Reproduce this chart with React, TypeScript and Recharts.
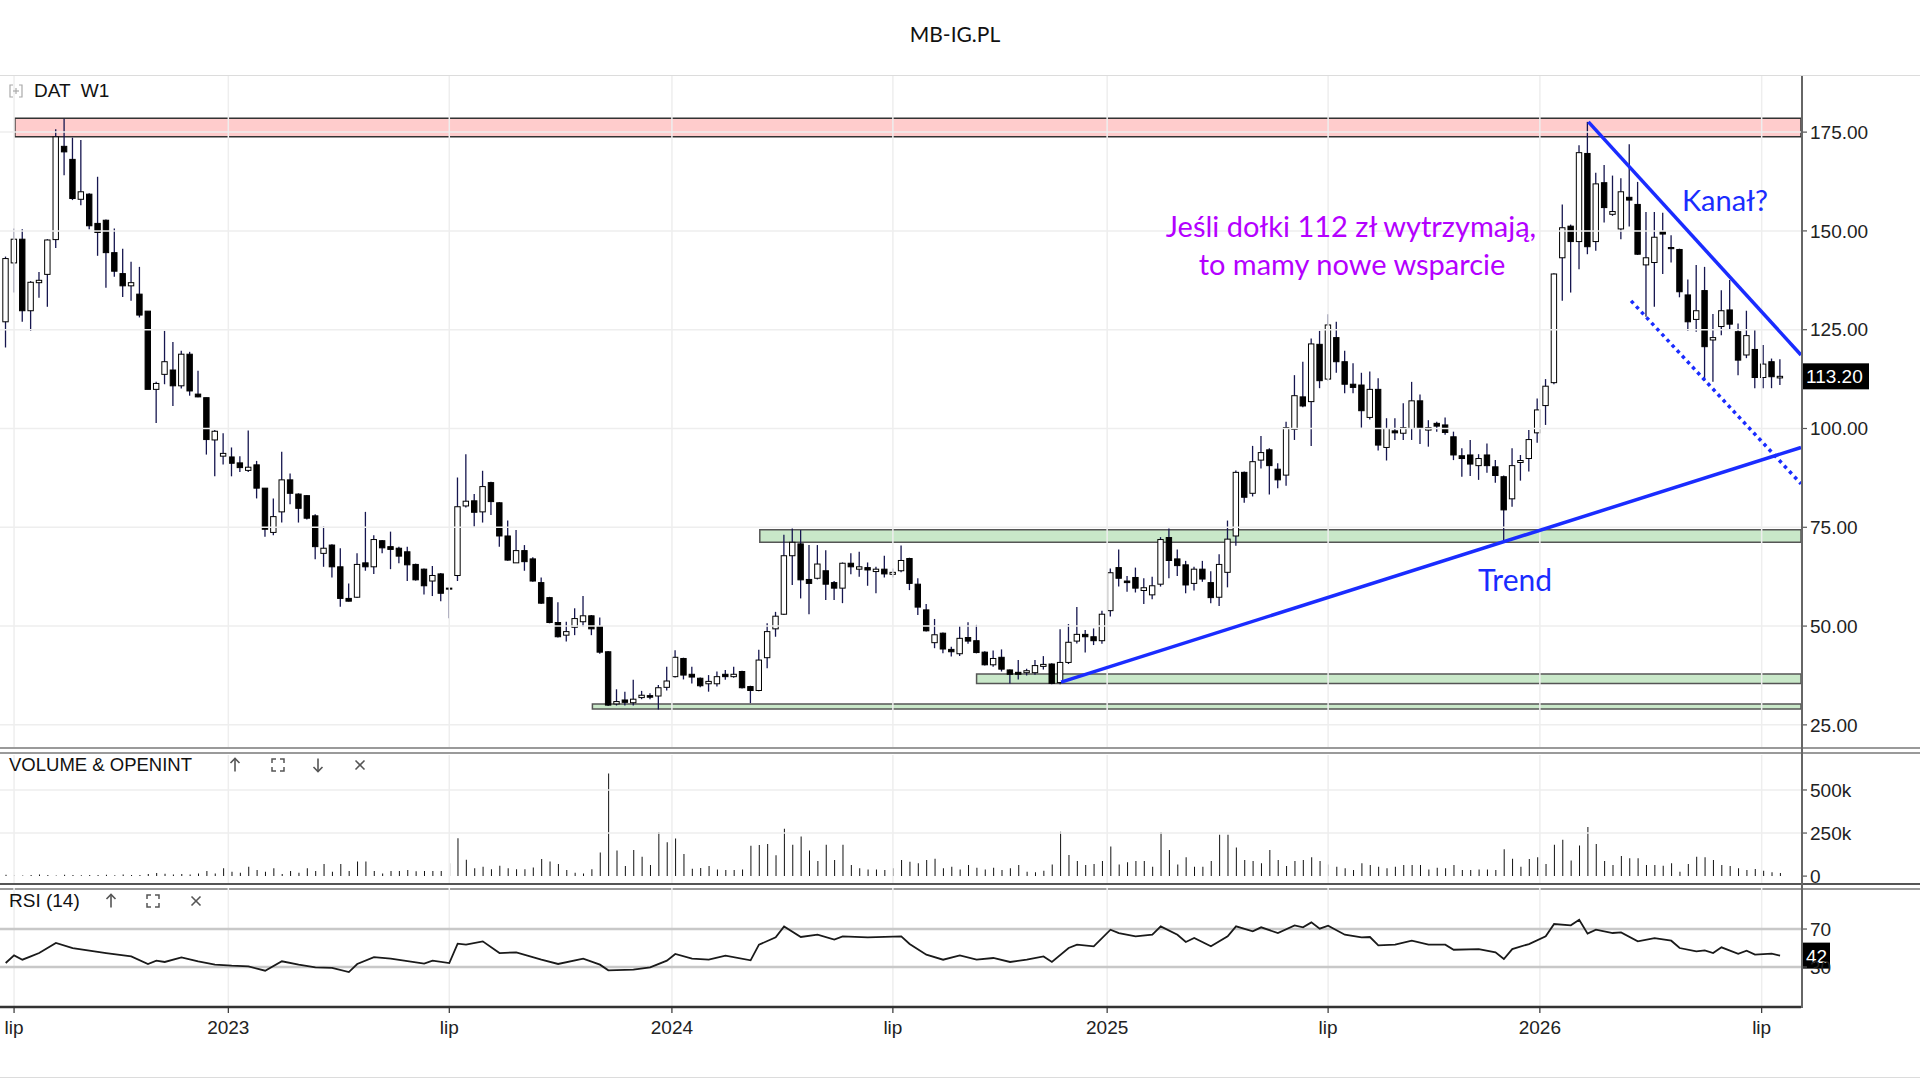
import { ComposedChart, Bar, Line, XAxis, YAxis, ReferenceLine, ReferenceArea } from "recharts";

// weekly candles, one per week, index 0 = last week of June 2022
const opens = [
  127, 141.9, 147.9, 129.8, 136.9, 139.0, 147.8, 171.4, 168.1, 158.0,
  159.3, 151.9, 152.7, 144.5, 139.2, 136.1, 134.0, 129.7, 109.9, 113.7,
  114.8, 110.8, 118.8, 108.7, 107.8, 97.1, 93.0, 92.8, 91.3, 89.4,
  90.8, 84.9, 73.7, 78.9, 87.0, 83.4, 83.0, 77.9, 68.4, 70.5,
  65.0, 57.0, 57.3, 66.0, 65.0, 71.6, 70.1, 69.7, 68.8, 65.6,
  64.4, 61.4, 63.2, 59.6, 62.8, 80.4, 81.7, 78.9, 86.3, 81.2,
  72.8, 66.0, 69.1, 67.0, 61.0, 57.2, 50.9, 47.7, 49.7, 51.1,
  52.6, 49.9, 43.5, 30.3, 31.3, 30.6, 31.9, 32.4, 32.3, 34.5,
  37.2, 41.8, 37.8, 36.8, 35.4, 35.4, 37.8, 37.2, 38.5, 34.7,
  33.7, 42.0, 49.3, 53.0, 67.8, 70.8, 61.8, 62.1, 64.0, 61.0,
  59.6, 65.9, 64.4, 64.8, 63.8, 64.4, 63.1, 64.0, 67.1, 60.6,
  54.1, 45.8, 48.2, 44.1, 43.0, 47.1, 46.3, 43.4, 40.2, 42.1,
  38.9, 38.3, 38.2, 38.2, 39.8, 40.4, 35.7, 40.8, 46.2, 47.9,
  47.3, 46.3, 53.9, 64.8, 61.4, 62.3, 59.0, 57.9, 60.6, 72.4,
  67.0, 65.5, 60.8, 64.4, 61.0, 57.3, 63.6, 72.8, 88.9, 83.6,
  92.0, 94.6, 89.7, 88.2, 99.8, 108.0, 106.8, 121.3, 112.5, 123.0,
  116.9, 111.2, 111.0, 102.8, 109.9, 95.2, 99.4, 98.8, 100.0, 107.0,
  99.6, 101.3, 100.9, 97.9, 93.1, 93.3, 90.6, 93.3, 90.3, 87.8,
  82.2, 91.4, 92.4, 98.9, 105.8, 111.6, 143.2, 151.2, 147.3, 169.6,
  147.3, 162.2, 154.2, 150.5, 158.5, 156.7, 141.4, 142.0, 149.8, 145.8,
  145.3, 133.8, 127.6, 134.9, 122.4, 125.8, 130.0, 124.5, 118.6, 120.0,
  112.9, 116.9, 112.8,
];
const highs = [
  143.5, 150.6, 150.4, 137.3, 139.6, 147.9, 175.7, 178.4, 173.6, 173.0,
  159.5, 163.7, 152.9, 150.6, 145.5, 142.2, 140.9, 129.7, 111.8, 124.7,
  121.9, 119.7, 119.4, 114.6, 107.8, 99.6, 98.8, 95.2, 93.0, 99.5,
  91.8, 84.9, 82.3, 94.1, 88.6, 83.6, 83.2, 78.3, 75.2, 70.7,
  69.7, 60.8, 68.4, 78.9, 73.0, 71.8, 73.9, 70.1, 70.1, 65.8,
  64.6, 65.2, 63.4, 59.7, 87.6, 93.5, 83.4, 89.3, 86.5, 81.4,
  76.7, 74.3, 70.5, 67.4, 62.3, 57.4, 56.0, 51.1, 54.5, 57.6,
  52.8, 52.2, 43.7, 34.0, 33.4, 36.4, 33.6, 33.0, 35.1, 39.7,
  43.9, 42.0, 39.7, 37.0, 37.6, 38.5, 38.9, 39.7, 38.7, 34.9,
  44.0, 50.7, 53.6, 73.1, 74.7, 74.3, 70.5, 70.5, 69.2, 61.4,
  66.1, 68.4, 68.8, 66.1, 65.0, 67.8, 64.6, 70.4, 67.3, 62.1,
  55.6, 51.8, 48.4, 44.8, 50.0, 51.0, 50.3, 43.6, 43.8, 44.1,
  39.0, 41.4, 39.2, 41.4, 42.4, 40.6, 49.2, 50.5, 54.8, 49.0,
  49.4, 53.9, 64.6, 69.4, 62.7, 64.8, 62.1, 62.5, 72.5, 74.7,
  69.4, 66.5, 65.0, 66.5, 63.9, 68.2, 76.7, 89.4, 89.1, 95.6,
  98.1, 95.0, 91.2, 101.7, 113.5, 116.9, 122.8, 124.7, 128.9, 127.0,
  119.7, 116.5, 114.1, 114.4, 112.7, 102.6, 102.6, 106.4, 111.8, 108.6,
  102.1, 101.7, 102.8, 99.2, 95.0, 97.1, 93.5, 96.2, 92.0, 88.1,
  95.0, 93.3, 99.6, 107.6, 112.5, 139.3, 156.7, 151.6, 171.7, 177.6,
  164.7, 166.7, 164.0, 163.3, 171.9, 162.4, 154.8, 154.8, 154.6, 148.9,
  145.5, 137.7, 141.4, 140.9, 129.0, 135.0, 137.6, 126.6, 129.8, 124.9,
  121.1, 117.7, 117.5,
];
const lows = [
  120.5, 134.4, 127.0, 124.7, 133.1, 130.8, 145.7, 164.1, 157.8, 156.5,
  150.4, 143.7, 135.6, 138.4, 133.3, 132.3, 128.1, 109.9, 101.4, 111.2,
  105.7, 110.1, 108.3, 107.9, 93.4, 87.9, 90.9, 87.9, 89.0, 89.0,
  82.3, 72.6, 73.0, 76.2, 80.8, 76.2, 77.0, 66.9, 65.0, 62.3,
  54.9, 56.2, 57.1, 64.0, 63.2, 68.4, 64.4, 65.9, 61.4, 61.5,
  58.0, 57.6, 56.3, 52.0, 61.4, 80.0, 75.2, 76.2, 78.1, 70.1,
  66.5, 66.0, 64.0, 61.2, 55.6, 50.7, 47.1, 46.1, 47.7, 49.9,
  47.7, 43.0, 29.8, 29.9, 29.9, 29.9, 31.5, 31.5, 28.9, 33.7,
  37.0, 36.5, 35.5, 34.5, 33.4, 34.7, 36.4, 36.9, 34.2, 30.5,
  33.5, 39.3, 47.3, 52.8, 60.4, 57.0, 53.0, 61.8, 56.6, 56.6,
  55.8, 63.1, 62.5, 60.2, 58.3, 62.3, 62.3, 63.6, 59.1, 52.8,
  48.6, 44.4, 43.1, 42.3, 42.4, 45.5, 43.1, 40.0, 39.7, 38.5,
  35.5, 36.5, 37.5, 37.7, 39.0, 35.3, 35.3, 40.4, 45.6, 43.3,
  45.2, 45.5, 52.4, 60.0, 58.7, 58.5, 55.6, 56.8, 60.0, 62.1,
  62.7, 58.3, 59.0, 61.2, 55.8, 55.1, 59.8, 70.3, 81.2, 82.8,
  89.9, 83.3, 84.9, 85.5, 97.1, 105.4, 95.6, 110.2, 112.1, 114.1,
  108.9, 108.9, 100.2, 102.3, 94.4, 91.9, 97.1, 97.1, 97.1, 96.1,
  95.4, 99.2, 98.4, 92.0, 87.8, 88.0, 87.0, 88.8, 86.3, 71.6,
  80.2, 86.8, 89.1, 96.4, 100.9, 111.2, 132.3, 134.4, 140.3, 144.1,
  145.0, 152.1, 153.8, 147.9, 151.1, 143.9, 128.3, 130.8, 139.1, 142.0,
  133.2, 124.7, 124.5, 112.1, 111.8, 123.6, 124.9, 113.5, 117.8, 110.2,
  110.2, 110.2, 111.0,
];
const closes = [
  143.0, 147.9, 129.8, 137.0, 137.5, 147.7, 173.8, 170.0, 158.2, 159.9,
  151.3, 149.6, 144.5, 139.8, 136.1, 136.9, 128.7, 109.9, 111.4, 116.9,
  110.8, 118.8, 109.5, 108.0, 97.2, 99.3, 93.7, 91.2, 90.1, 90.2,
  84.9, 74.5, 77.7, 87.0, 83.6, 79.8, 77.3, 70.1, 69.7, 65.0,
  57.0, 56.3, 65.6, 65.0, 71.9, 69.8, 69.4, 67.7, 65.5, 61.7,
  60.2, 62.8, 58.3, 59.5, 80.2, 81.6, 78.8, 85.3, 81.5, 72.8,
  66.7, 69.1, 66.3, 61.4, 55.8, 50.9, 47.3, 48.6, 51.9, 52.6,
  49.3, 43.4, 30.0, 30.9, 30.7, 31.5, 32.5, 32.0, 34.4, 36.1,
  42.1, 37.6, 37.1, 34.9, 36.0, 37.2, 37.2, 37.8, 34.4, 33.7,
  41.4, 48.6, 52.5, 67.8, 71.2, 61.7, 60.8, 65.7, 60.6, 59.6,
  65.9, 65.0, 65.0, 64.2, 64.4, 63.2, 63.6, 66.6, 60.8, 54.8,
  48.8, 47.8, 44.2, 43.5, 46.9, 46.2, 43.3, 40.2, 41.8, 39.1,
  37.8, 37.8, 38.7, 40.0, 40.3, 35.5, 40.8, 45.9, 47.9, 47.3,
  46.3, 53.0, 63.5, 62.1, 61.0, 59.6, 59.7, 60.2, 71.9, 66.6,
  65.3, 60.4, 64.4, 61.9, 57.2, 65.6, 72.0, 88.9, 82.6, 91.6,
  93.9, 90.6, 87.0, 100.2, 108.3, 105.7, 121.4, 112.1, 126.2, 116.9,
  111.2, 110.4, 104.5, 109.9, 95.8, 100.0, 98.9, 100.2, 107.0, 100.0,
  100.2, 100.6, 99.0, 93.3, 92.4, 91.0, 92.4, 90.6, 88.1, 79.4,
  90.6, 91.9, 97.2, 104.7, 110.7, 139.1, 150.8, 147.3, 169.8, 146.0,
  161.9, 155.9, 154.9, 159.9, 157.8, 144.1, 143.2, 148.4, 149.2, 145.5,
  134.6, 127.0, 129.8, 120.7, 123.0, 129.8, 126.4, 117.3, 123.5, 112.9,
  116.3, 113.1, 113.2,
];
// weekly volume, thousands
const volumesK = [
  8, 5, 4, 7, 10, 6, 4, 8, 6, 5, 7, 6, 8, 5, 9, 7, 6, 12, 18, 14,
  10, 12, 9, 15, 30, 15, 45, 25, 20, 55, 35, 25, 45, 12, 30, 20, 45, 30, 70, 25,
  70, 30, 85, 85, 30, 15, 30, 30, 35, 28, 30, 30, 30, 75, 220, 95, 45, 55, 40, 60,
  45, 40, 40, 50, 100, 85, 70, 35, 20, 15, 40, 137, 595, 148, 59, 152, 113, 64, 256, 197,
  219, 129, 43, 47, 59, 39, 35, 35, 39, 176, 180, 187, 121, 275, 182, 230, 148, 88, 182, 94,
  182, 64, 45, 39, 39, 35, 45, 94, 84, 74, 94, 101, 45, 55, 39, 64, 49, 39, 49, 35,
  45, 64, 25, 23, 31, 68, 258, 123, 88, 64, 70, 88, 172, 68, 80, 88, 88, 55, 256, 152,
  68, 109, 55, 55, 88, 240, 240, 166, 94, 88, 74, 152, 94, 59, 88, 94, 109, 88, 68, 55,
  45, 35, 74, 64, 55, 45, 55, 64, 64, 64, 39, 49, 45, 64, 35, 35, 39, 39, 35, 156,
  101, 55, 100, 109, 70, 182, 211, 90, 178, 285, 187, 88, 64, 117, 103, 103, 64, 64, 60, 74,
  25, 70, 113, 109, 94, 64, 59, 45, 35, 41, 31, 23, 18,
];
const rsiWeeks = [
  0, 1, 2, 3, 4, 6, 8, 10, 12, 15, 17, 18, 19, 21, 23, 25, 27, 29, 31, 33,
  35, 37, 39, 41, 42, 44, 46, 50, 51, 53, 54, 55, 57, 59, 61, 64, 66, 69, 71, 72,
  75, 77, 79, 80, 82, 84, 86, 89, 90, 92, 93, 95, 97, 99, 100, 103, 107, 108, 110, 112,
  114, 116, 118, 120, 122, 124, 125, 127, 128, 130, 132, 133, 135, 137, 138, 140, 141, 142, 144, 146,
  147, 149, 150, 152, 154, 155, 156, 157, 158, 160, 162, 163, 164, 166, 168, 170, 172, 173, 176, 178,
  179, 180, 182, 184, 185, 187, 188, 189, 190, 192, 193, 195, 197, 199, 200, 202, 203, 204, 205, 207,
  208, 209, 211, 212,
];
const rsiValues = [
  34.2, 42.3, 37.7, 41.2, 44.7, 55.3, 50, 47.2, 44.7, 41.2, 33.2, 36.7, 35.3, 40.2, 36, 32.5, 31.4, 30.7, 26.1, 36,
  32.5, 29.6, 29, 24.7, 33.2, 40.5, 38.8, 33.5, 36.7, 34.2, 54.6, 53.5, 57, 44.7, 45.4, 37.7, 33.2, 38.8, 32.5, 26.5,
  27.2, 29.6, 36.7, 43.7, 38.8, 37.7, 41.9, 37, 53.5, 61.2, 72.8, 61.6, 64, 58.8, 62.3, 61.2, 62.3, 54.2, 43, 37.7,
  42.3, 37.7, 39.5, 35.3, 37.7, 41.2, 35.3, 50, 53.5, 51.8, 69.3, 65.8, 62.3, 64, 72.8, 64, 56.3, 60.5, 51.8, 62.3,
  72.8, 67.5, 71.8, 65.8, 73.9, 71.8, 77, 70.4, 73.5, 64, 61.2, 61.6, 52.8, 53.5, 57.7, 53.5, 53.5, 48.2, 48.9, 45.4,
  38.4, 48.9, 54.2, 62.3, 75.3, 73.9, 79.8, 65.1, 69.3, 65.8, 66.5, 57, 60.5, 57.7, 50, 46.5, 47.5, 44.7, 50.7, 44,
  47.2, 43, 44, 42,
];
const xTickWeeks = [1, 26.6, 53, 79.6, 106, 131.6, 158, 183.3, 209.8];
const xTickLabels = ["lip", "2023", "lip", "2024", "lip", "2025", "lip", "2026", "lip"];
const priceTicks = [25, 50, 75, 100, 125, 150, 175];
const volumeTicks = [0, 250000, 500000];
const rsiTicks = [30, 70];

// drawn annotations, in week index / price units
const resistanceZone = { from: 1.1, lo: 173.8, hi: 178.5 };
const supportZones = [
  { from: 90.1, lo: 71.2, hi: 74.4 },
  { from: 116.0, lo: 35.5, hi: 37.9 },
  { from: 70.1, lo: 29.0, hi: 30.3 },
];
const trendLine = [{ x: 126.1, y: 35.8 }, { x: 214.5, y: 95.2 }];
const channelTop = [{ x: 189.1, y: 177.6 }, { x: 214.5, y: 118.6 }];
const channelBottom = [{ x: 194.2, y: 132.3 }, { x: 214.5, y: 86.0 }];

const X_DOMAIN: [number, number] = [-0.68, 214.5];
const W = 1920;
const AXIS_W = 119;
const PLOT_RIGHT = W - AXIS_W;
const FONT = "'Liberation Sans', Arial, sans-serif";
const NOTE_FONT = "Lato, 'Open Sans', sans-serif";
const BLUE = "#1a2cff";

const candles = opens.map((o, i) => ({
  i,
  o,
  h: highs[i],
  l: lows[i],
  c: closes[i],
}));
const volumeRows = volumesK.map((v, i) => ({ i, v: v * 1000 }));
const rsiRows = rsiWeeks.map((w, k) => ({ i: w, r: rsiValues[k] }));

function Candle(props: any) {
  const { x, y, width, height, payload } = props;
  if (!payload || x == null) return null;
  const { o, h, l, c } = payload;
  const top = Math.min(y, y + height);
  const span = Math.abs(height);
  const ppu = h - l > 0 ? span / (h - l) : 0;
  const yOf = (v: number) => top + (h - v) * ppu;
  const cx = x + width / 2;
  const bTop = yOf(Math.max(o, c));
  const bBot = yOf(Math.min(o, c));
  const up = c >= o;
  return (
    <g>
      <line x1={cx} x2={cx} y1={top} y2={top + span} stroke="#16164f" strokeWidth={1.3} />
      <rect
        x={cx - 2.7}
        y={bTop}
        width={5.4}
        height={Math.max(1, bBot - bTop)}
        fill={up ? "#ffffff" : "#000000"}
        stroke="#000"
        strokeWidth={1}
      />
    </g>
  );
}

function valueTag(text: string) {
  return (p: any) => {
    const vb = p.viewBox || {};
    const left = (vb.x || 0) + (vb.width || 0) + 1;
    return (
      <g>
        <rect x={left} y={vb.y - 13} width={text.length > 3 ? 67 : 28} height={26} fill="#000" />
        <text x={left + 4} y={vb.y + 7} fill="#fff" fontSize={19} fontFamily={FONT}>
          {text}
        </text>
      </g>
    );
  };
}

function Arrow({ x, y, down }: { x: number; y: number; down?: boolean }) {
  return (
    <svg style={{ position: "absolute", left: x - 6, top: y - 8 }} width={12} height={16}>
      <line x1={6} y1={1.5} x2={6} y2={14.5} stroke="#555" strokeWidth={1.6} />
      <polyline
        points={down ? "1.5,10 6,14.5 10.5,10" : "1.5,6 6,1.5 10.5,6"}
        fill="none"
        stroke="#555"
        strokeWidth={1.6}
      />
    </svg>
  );
}

function Frame({ x, y }: { x: number; y: number }) {
  const s = "#555";
  return (
    <svg style={{ position: "absolute", left: x - 7, top: y - 7 }} width={14} height={14}>
      <polyline points="1,5 1,1 5,1" fill="none" stroke={s} strokeWidth={1.5} />
      <polyline points="9,1 13,1 13,5" fill="none" stroke={s} strokeWidth={1.5} />
      <polyline points="1,9 1,13 5,13" fill="none" stroke={s} strokeWidth={1.5} />
      <polyline points="9,13 13,13 13,9" fill="none" stroke={s} strokeWidth={1.5} />
    </svg>
  );
}

function Cross({ x, y }: { x: number; y: number }) {
  return (
    <svg style={{ position: "absolute", left: x - 6, top: y - 6 }} width={12} height={12}>
      <line x1={1.5} y1={1.5} x2={10.5} y2={10.5} stroke="#555" strokeWidth={1.6} />
      <line x1={10.5} y1={1.5} x2={1.5} y2={10.5} stroke="#555" strokeWidth={1.6} />
    </svg>
  );
}

const label = (left: number, top: number, text: string, size = 19) => (
  <div
    style={{
      position: "absolute",
      left,
      top: top - 12,
      lineHeight: "24px",
      fontSize: size,
      fontFamily: FONT,
      color: "#111",
      whiteSpace: "pre",
    }}
  >
    {text}
  </div>
);

const note = (cx: number, cy: number, text: string, color: string, size: number) => (
  <div
    style={{
      position: "absolute",
      left: cx,
      top: cy,
      transform: "translate(-50%, -50%)",
      fontFamily: NOTE_FONT,
      fontSize: size,
      lineHeight: 1,
      color,
      whiteSpace: "nowrap",
    }}
  >
    {text}
  </div>
);

const hLine = (top: number, color: string, h = 1, width = W) => (
  <div style={{ position: "absolute", left: 0, top, width, height: h, background: color }} />
);

const tickStyle = { fontSize: 19, fill: "#222", fontFamily: FONT };
const yTickLine = { stroke: "#555", strokeWidth: 1.2 };

export default function App() {
  const last = candles.length - 1;
  return (
    <div
      style={{
        position: "relative",
        width: W,
        height: 1080,
        background: "#fff",
        overflow: "hidden",
        fontFamily: FONT,
      }}
    >
      <style>{"body{margin:0}"}</style>
      <div
        style={{
          position: "absolute",
          left: 0,
          width: 1910,
          top: 21,
          textAlign: "center",
          fontFamily: NOTE_FONT,
          fontSize: 21,
          lineHeight: "26px",
          color: "#111",
        }}
      >
        MB-IG.PL
      </div>
      {hLine(75, "#dcdcdc")}
      {hLine(1077, "#dcdcdc")}

      {/* panel separators */}
      {hLine(747, "#9a9a9a", 1.5)}
      {hLine(752, "#9a9a9a", 1.5)}
      {hLine(883, "#555", 1.5)}
      {hLine(888, "#9a9a9a", 1.5)}

      {/* price panel */}
      <div style={{ position: "absolute", left: 0, top: 76 }}>
        <ComposedChart width={W} height={671} data={candles} margin={{ top: 0, right: 0, bottom: 0, left: 0 }}>
          <XAxis dataKey="i" type="number" domain={X_DOMAIN} allowDataOverflow hide />
          <YAxis
            orientation="right"
            width={AXIS_W}
            domain={[19.4, 189.2]}
            allowDataOverflow
            ticks={priceTicks}
            interval={0}
            tickFormatter={(v: number) => v.toFixed(2)}
            tick={tickStyle}
            tickLine={yTickLine}
            tickSize={6}
            tickMargin={3}
            axisLine={false}
          />
          {priceTicks.map((t) => (
            <ReferenceLine key={"pg" + t} y={t} stroke="#eeeeee" strokeWidth={1.5} />
          ))}
          {xTickWeeks.map((t) => (
            <ReferenceLine key={"px" + t} x={t} stroke="#eeeeee" strokeWidth={1.5} />
          ))}
          <ReferenceArea
            x1={resistanceZone.from}
            x2={X_DOMAIN[1]}
            y1={resistanceZone.lo}
            y2={resistanceZone.hi}
            fill="#ffcccc"
            fillOpacity={1}
            stroke="#333"
            strokeWidth={1.5}
          />
          {supportZones.map((z) => (
            <ReferenceArea
              key={"z" + z.lo}
              x1={z.from}
              x2={X_DOMAIN[1]}
              y1={z.lo}
              y2={z.hi}
              fill="#c9e8c9"
              fillOpacity={1}
              stroke="#555"
              strokeWidth={1.5}
            />
          ))}
          <Bar
            dataKey={(d: any) => [d.l, d.h]}
            barSize={6}
            shape={(p: any) => <Candle {...p} />}
            isAnimationActive={false}
          />
          <ReferenceLine segment={trendLine} stroke={BLUE} strokeWidth={3.5} />
          <ReferenceLine segment={channelTop} stroke={BLUE} strokeWidth={3.5} />
          <ReferenceLine segment={channelBottom} stroke={BLUE} strokeWidth={3.5} strokeDasharray="3.5 4" />
          <ReferenceLine
            y={closes[last]}
            stroke="#000"
            strokeOpacity={0}
            label={valueTag(closes[last].toFixed(2))}
          />
        </ComposedChart>
      </div>

      {/* volume panel: plot spans 755..883, extra bottom room keeps the 0 label whole */}
      <div style={{ position: "absolute", left: 0, top: 755 }}>
        <ComposedChart width={W} height={142} data={volumeRows} margin={{ top: 0, right: 0, bottom: 14, left: 0 }}>
          <XAxis dataKey="i" type="number" domain={X_DOMAIN} allowDataOverflow hide />
          <YAxis
            orientation="right"
            width={AXIS_W}
            domain={[-40000, 703000]}
            allowDataOverflow
            ticks={volumeTicks}
            interval={0}
            tickFormatter={(v: number) => (v === 0 ? "0" : v / 1000 + "k")}
            tick={tickStyle}
            tickLine={yTickLine}
            tickSize={6}
            tickMargin={3}
            axisLine={false}
          />
          {volumeTicks.slice(1).map((t) => (
            <ReferenceLine key={"vg" + t} y={t} stroke="#eeeeee" strokeWidth={1.5} />
          ))}
          {xTickWeeks.map((t) => (
            <ReferenceLine key={"vx" + t} x={t} stroke="#eeeeee" strokeWidth={1.5} />
          ))}
          <Bar dataKey="v" barSize={1} fill="#111" isAnimationActive={false} />
        </ComposedChart>
      </div>

      {/* rsi panel */}
      <div style={{ position: "absolute", left: 0, top: 888 }}>
        <ComposedChart width={W} height={159} data={rsiRows} margin={{ top: 0, right: 0, bottom: 0, left: 0 }}>
          <XAxis
            dataKey="i"
            type="number"
            domain={X_DOMAIN}
            allowDataOverflow
            ticks={xTickWeeks}
            interval={0}
            tickFormatter={(v: number) => xTickLabels[xTickWeeks.indexOf(v)] ?? ""}
            tick={tickStyle}
            tickLine={{ stroke: "#333", strokeWidth: 1.2 }}
            tickSize={6}
            tickMargin={8}
            axisLine={{ stroke: "#333", strokeWidth: 2.5 }}
            height={40}
          />
          <YAxis
            orientation="right"
            width={AXIS_W}
            domain={[-12.1, 113.2]}
            allowDataOverflow
            ticks={rsiTicks}
            interval={0}
            tick={tickStyle}
            tickLine={yTickLine}
            tickSize={6}
            tickMargin={3}
            axisLine={false}
          />
          {xTickWeeks.map((t) => (
            <ReferenceLine key={"rx" + t} x={t} stroke="#eeeeee" strokeWidth={1.5} />
          ))}
          {rsiTicks.map((t) => (
            <ReferenceLine key={"rg" + t} y={t} stroke="#c8c8c8" strokeWidth={2.5} />
          ))}
          <Line
            dataKey="r"
            type="linear"
            stroke="#1a1a1a"
            strokeWidth={1.8}
            dot={false}
            isAnimationActive={false}
          />
          <ReferenceLine
            y={rsiValues[rsiValues.length - 1]}
            stroke="#000"
            strokeOpacity={0}
            label={valueTag(String(Math.round(rsiValues[rsiValues.length - 1])))}
          />
        </ComposedChart>
      </div>

      {/* right axis line through all panels */}
      <div style={{ position: "absolute", left: PLOT_RIGHT, top: 76, width: 1.5, height: 932, background: "#666" }} />

      {/* panel headers */}
      <svg style={{ position: "absolute", left: 9, top: 84 }} width={14} height={14}>
        <polyline points="4,1 1,1 1,13 4,13" fill="none" stroke="#aaa" strokeWidth={1.2} />
        <polyline points="10,1 13,1 13,13 10,13" fill="none" stroke="#aaa" strokeWidth={1.2} />
        <line x1={7} y1={4} x2={7} y2={10} stroke="#aaa" strokeWidth={1.2} />
        <line x1={4} y1={7} x2={10} y2={7} stroke="#aaa" strokeWidth={1.2} />
      </svg>
      {label(34, 91, "DAT  W1")}
      {label(9, 765, "VOLUME & OPENINT", 18.5)}
      <Arrow x={235} y={765} />
      <Frame x={278} y={765} />
      <Arrow x={318} y={765} down />
      <Cross x={360} y={765} />
      {label(9, 901, "RSI (14)")}
      <Arrow x={111} y={901} />
      <Frame x={153} y={901} />
      <Cross x={196} y={901} />

      {/* annotations */}
      {note(1351, 225, "Jeśli dołki 112 zł wytrzymają,", "#b400ff", 29)}
      {note(1352, 263, "to mamy nowe wsparcie", "#b400ff", 29)}
      {note(1725, 199, "Kanał?", BLUE, 29)}
      {note(1515, 579, "Trend", BLUE, 30)}
    </div>
  );
}
